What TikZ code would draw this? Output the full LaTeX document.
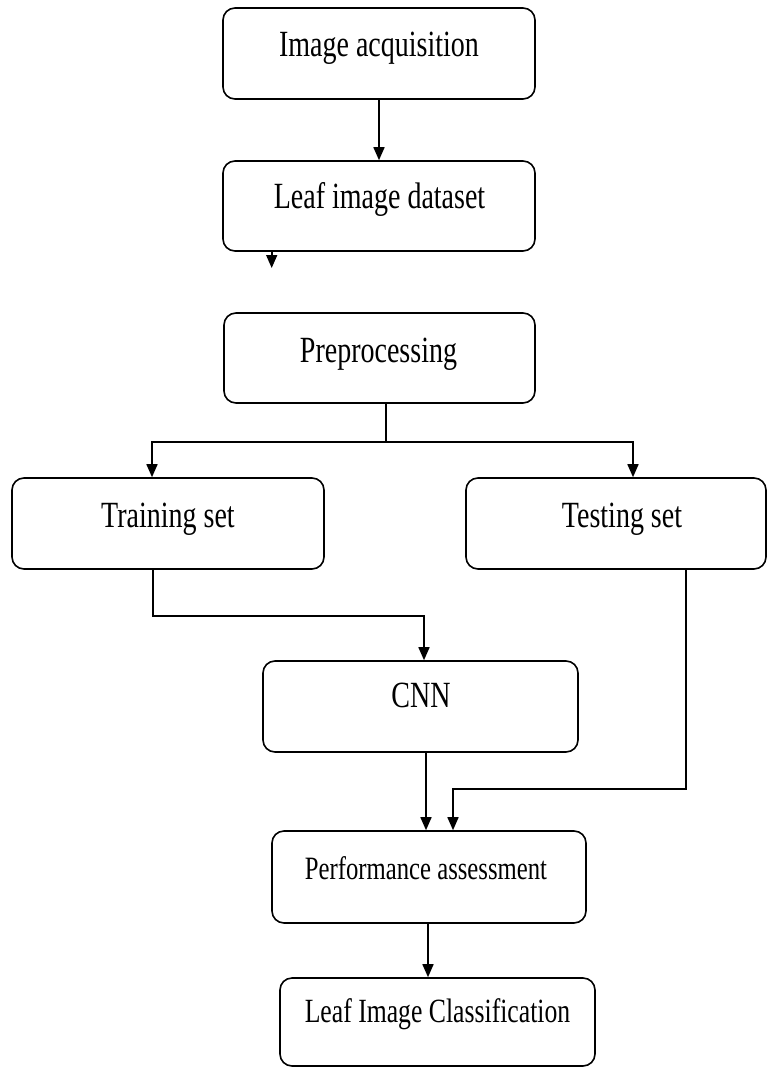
\documentclass[tikz,border=0pt]{standalone}
\usepackage{fontspec}
\setmainfont{Liberation Serif}
\usetikzlibrary{arrows.meta}
\begin{document}
\begin{tikzpicture}[x=1pt,y=-1pt,
  box/.style={draw=black, line width=1.6pt, rounded corners=12pt, fill=white, inner sep=0pt},
  lbl/.style={anchor=base, inner sep=0pt, font=\fontsize{28}{30}\selectfont},
  conn/.style={draw=black, line width=1.6pt},
  arr/.style={conn, -{Triangle[width=11pt,length=13pt]}}]
\useasboundingbox (0,0) rectangle (769,1068);
% boxes
\node[box, minimum width=312pt, minimum height=91pt] (a) at (379,53.5) {};
\node[box, minimum width=312pt, minimum height=90pt] (b) at (379,206) {};
\node[box, minimum width=311pt, minimum height=90pt] (c) at (379.5,358) {};
\node[box, minimum width=312pt, minimum height=91pt] (d) at (168,523.5) {};
\node[box, minimum width=300pt, minimum height=91pt] (e) at (616,523.5) {};
\node[box, minimum width=315pt, minimum height=91pt] (f) at (420.5,706.5) {};
\node[box, minimum width=314pt, minimum height=92pt] (g) at (429,877) {};
\node[box, minimum width=315pt, minimum height=88pt] (h) at (437.5,1022) {};
% labels
\node[lbl] (ta) at (379,56) {\scalebox{1}[1.32]{Image acquisition}};
\node[lbl] (tb) at (379.5,208) {\scalebox{1}[1.32]{Leaf image dataset}};
\node[lbl] (tc) at (378.5,362) {\scalebox{1}[1.32]{Preprocessing}};
\node[lbl] (td) at (168,527) {\scalebox{1}[1.32]{Training set}};
\node[lbl] (te) at (622,527) {\scalebox{1}[1.32]{Testing set}};
\node[lbl] (tf) at (421,707) {\scalebox{1}[1.32]{CNN}};
\node[lbl, font=\fontsize{24.7}{26}\selectfont] (tg) at (426,879) {\scalebox{1}[1.32]{Performance assessment}};
\node[lbl, font=\fontsize{25.7}{28}\selectfont] (th) at (437.5,1022) {\scalebox{1}[1.32]{Leaf Image Classification}};
% helper coordinates
\coordinate (s) at (271.7,268);
\coordinate (j) at (386,442);
\coordinate (jl) at (152,442);
\coordinate (jr) at (633,442);
\coordinate (t1) at (153,616);
\coordinate (t2) at (424,616);
\coordinate (cx) at (426,780);
\coordinate (q1) at (686,789);
\coordinate (q2) at (453,789);
\coordinate (px) at (428,950);
% connectors
\draw[arr] (a.south) -- (b.north);
\draw[arr] (s |- b.south) -- (s);
\draw[conn] (c.south -| j) -- (j);
\draw[arr] (j) -- (jl) -- (d.north -| jl);
\draw[arr] (j) -- (jr) -- (e.north -| jr);
\draw[arr] (d.south -| t1) -- (t1) -- (t2) -- (f.north -| t2);
\draw[arr] (f.south -| cx) -- (g.north -| cx);
\draw[arr] (e.south -| q1) -- (q1) -- (q2) -- (g.north -| q2);
\draw[arr] (g.south -| px) -- (h.north -| px);
\end{tikzpicture}
\end{document}
